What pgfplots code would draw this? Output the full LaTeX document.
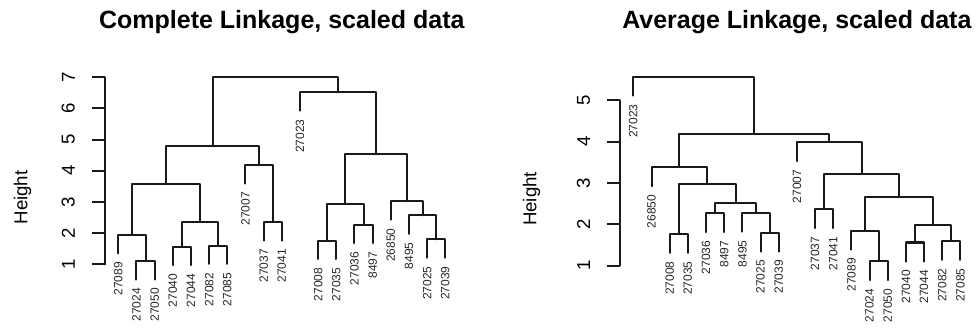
\documentclass[border=0pt]{standalone}
\usepackage{pgfplots}
\pgfplotsset{compat=1.18}
\usepackage{fontspec}
\setmainfont{Liberation Sans}

\pgfplotsset{
  dend/.style={black!90, line width=1.5pt, line cap=round, line join=round},
  leaflab/.style={only marks, mark=*, mark size=0pt, mark options={draw=none, fill=none},
    nodes near coords, point meta=explicit symbolic,
    nodes near coords style={rotate=90, anchor=east, inner xsep=6.3pt, inner ysep=0pt,
      font=\fontsize{9}{10}\selectfont, text=black!85}},
  dendaxis/.style={
    scale only axis, width=264.9pt,
    xmin=0.28, xmax=19.72, clip=false,
    axis line style={draw=none}, xtick=\empty,
    ytick pos=left, tick align=outside, major tick length=9.75pt,
    tick style={black!90, line width=1.5pt},
    /pgf/number format/assume math mode=true,
    yticklabel style={rotate=90, anchor=south, inner ysep=12.75pt, inner xsep=0pt,
      font=\fontsize{14}{16}\selectfont},
    title style={font=\bfseries\fontsize{18.75}{22}\selectfont, at={(0.5,1)}, anchor=base, yshift=24pt},
  }
}

\begin{document}
\begin{tikzpicture}
\useasboundingbox (0,0) rectangle (735pt,246.75pt);

% ---------------- Complete linkage ----------------
\begin{axis}[dendaxis, at={(78.9pt,31.0pt)}, anchor=south west,
  height=164.3pt, ymin=0.25, ymax=7.28, ytick={1,2,3,4,5,6,7},
  title={Complete Linkage, scaled data}]
\addplot[dend] coordinates {(0.28,1) (0.28,7)};
\addplot[dend] coordinates {(2,0.51)(2,1.10)(3,1.10)(3,0.51)};
\addplot[dend] coordinates {(1,1.35)(1,1.94)(2.5,1.94)(2.5,1.10)};
\addplot[dend] coordinates {(4,0.975)(4,1.565)(5,1.565)(5,0.975)};
\addplot[dend] coordinates {(6,1.01)(6,1.60)(7,1.60)(7,1.01)};
\addplot[dend] coordinates {(4.5,1.565)(4.5,2.35)(6.5,2.35)(6.5,1.60)};
\addplot[dend] coordinates {(1.75,1.94)(1.75,3.57)(5.5,3.57)(5.5,2.35)};
\addplot[dend] coordinates {(9,1.76)(9,2.35)(10,2.35)(10,1.76)};
\addplot[dend] coordinates {(8,3.59)(8,4.18)(9.5,4.18)(9.5,2.35)};
\addplot[dend] coordinates {(3.625,3.57)(3.625,4.80)(8.75,4.80)(8.75,4.18)};
\addplot[dend] coordinates {(12,1.17)(12,1.76)(13,1.76)(13,1.17)};
\addplot[dend] coordinates {(14,1.68)(14,2.27)(15,2.27)(15,1.68)};
\addplot[dend] coordinates {(12.5,1.76)(12.5,2.93)(14.5,2.93)(14.5,2.27)};
\addplot[dend] coordinates {(18,1.21)(18,1.80)(19,1.80)(19,1.21)};
\addplot[dend] coordinates {(17,1.98)(17,2.57)(18.5,2.57)(18.5,1.80)};
\addplot[dend] coordinates {(16,2.43)(16,3.02)(17.75,3.02)(17.75,2.57)};
\addplot[dend] coordinates {(13.5,2.93)(13.5,4.53)(16.875,4.53)(16.875,3.02)};
\addplot[dend] coordinates {(11,5.93)(11,6.52)(15.1875,6.52)(15.1875,4.53)};
\addplot[dend] coordinates {(6.1875,4.80)(6.1875,7.02)(13.09375,7.02)(13.09375,6.52)};
\addplot[leaflab] table[x=x, y=y, meta=lab] {
x y lab
1 1.35 27089
2 0.51 27024
3 0.51 27050
4 0.975 27040
5 0.975 27044
6 1.01 27082
7 1.01 27085
8 3.59 27007
9 1.76 27037
10 1.76 27041
11 5.93 27023
12 1.17 27008
13 1.17 27035
14 1.68 27036
15 1.68 8497
16 2.43 26850
17 1.98 8495
18 1.21 27025
19 1.21 27039
};
\node[rotate=90, font=\fontsize{14}{16}\selectfont] at (axis cs:-4.27,3.144) {Height};
\end{axis}

% ---------------- Average linkage ----------------
\begin{axis}[dendaxis, at={(465.2pt,30.45pt)}, anchor=south west,
  height=165pt, ymin=0.45, ymax=5.77, ytick={1,2,3,4,5},
  title={Average Linkage, scaled data}]
\addplot[dend] coordinates {(0.28,1) (0.28,5)};
\addplot[dend] coordinates {(3,1.31)(3,1.77)(4,1.77)(4,1.31)};
\addplot[dend] coordinates {(5,1.81)(5,2.27)(6,2.27)(6,1.81)};
\addplot[dend] coordinates {(8,1.34)(8,1.80)(9,1.80)(9,1.34)};
\addplot[dend] coordinates {(7,1.82)(7,2.28)(8.5,2.28)(8.5,1.80)};
\addplot[dend] coordinates {(5.5,2.27)(5.5,2.51)(7.75,2.51)(7.75,2.28)};
\addplot[dend] coordinates {(3.5,1.77)(3.5,2.97)(6.625,2.97)(6.625,2.51)};
\addplot[dend] coordinates {(2,2.92)(2,3.38)(5.0625,3.38)(5.0625,2.97)};
\addplot[dend] coordinates {(11,1.91)(11,2.37)(12,2.37)(12,1.91)};
\addplot[dend] coordinates {(14,0.65)(14,1.11)(15,1.11)(15,0.65)};
\addplot[dend] coordinates {(13,1.39)(13,1.85)(14.5,1.85)(14.5,1.11)};
\addplot[dend] coordinates {(16,1.10)(16,1.56)(17,1.56)(17,1.10)};
\addplot[dend] coordinates {(18,1.14)(18,1.60)(19,1.60)(19,1.14)};
\addplot[dend] coordinates {(16.5,1.56)(16.5,1.98)(18.5,1.98)(18.5,1.60)};
\addplot[dend] coordinates {(13.75,1.85)(13.75,2.67)(17.5,2.67)(17.5,1.98)};
\addplot[dend] coordinates {(11.5,2.37)(11.5,3.22)(15.625,3.22)(15.625,2.67)};
\addplot[dend] coordinates {(10,3.53)(10,3.99)(13.5625,3.99)(13.5625,3.22)};
\addplot[dend] coordinates {(3.53125,3.38)(3.53125,4.18)(11.78125,4.18)(11.78125,3.99)};
\addplot[dend] coordinates {(1,5.11)(1,5.57)(7.65625,5.57)(7.65625,4.18)};
\addplot[leaflab] table[x=x, y=y, meta=lab] {
x y lab
1 5.11 27023
2 2.92 26850
3 1.31 27008
4 1.31 27035
5 1.81 27036
6 1.81 8497
7 1.82 8495
8 1.34 27025
9 1.34 27039
10 3.53 27007
11 1.91 27037
12 1.91 27041
13 1.39 27089
14 0.65 27024
15 0.65 27050
16 1.10 27040
17 1.10 27044
18 1.14 27082
19 1.14 27085
};
\node[rotate=90, font=\fontsize{14}{16}\selectfont] at (axis cs:-4.60,2.612) {Height};
\end{axis}
\end{tikzpicture}
\end{document}
